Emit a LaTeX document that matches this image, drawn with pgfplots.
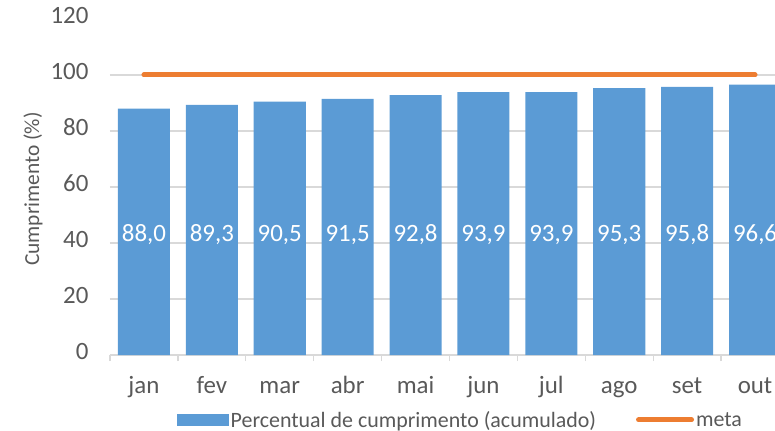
\documentclass[border=0pt]{standalone}
\usepackage{pgfplots}
\pgfplotsset{compat=1.18}
\usepackage{pgfplotstable}
\usepackage{fontspec}
\setmainfont{Carlito}

\definecolor{barblue}{HTML}{5B9BD5}
\definecolor{metaorange}{HTML}{ED7D31}
\definecolor{gridgray}{HTML}{D9D9D9}
\definecolor{textgray}{HTML}{595959}

\newcommand\fs[1]{\fontsize{#1}{#1}\selectfont}

% percentual acumulado por mes e meta
\pgfplotstableread{
x mes val meta
0 jan 88.0 100
1 fev 89.3 100
2 mar 90.5 100
3 abr 91.5 100
4 mai 92.8 100
5 jun 93.9 100
6 jul 93.9 100
7 ago 95.3 100
8 set 95.8 100
9 out 96.6 100
}\dados

\begin{document}
\begin{tikzpicture}
\begin{axis}[
  at={(0,0)}, anchor=south west,
  scale only axis, width=665bp, height=336bp,
  xmin=-0.5, xmax=9.294, ymin=0, ymax=120,
  /pgf/number format/assume math mode=true,
  xtick={0,...,9},
  xticklabels={jan,fev,mar,abr,mai,jun,jul,ago,set,out},
  typeset ticklabels with strut,
  ytick={0,20,...,100},
  extra y ticks={120}, extra y tick style={grid=none},
  extra x ticks={-0.5,0.5,...,8.5}, extra x tick labels={},
  extra x tick style={xtick style={draw=gridgray, line width=1.3bp}},
  xtick style={draw=none}, ytick style={draw=none},
  tick align=outside, major tick length=6bp,
  ymajorgrids, grid style={gridgray, line width=1.3bp},
  axis x line*=bottom, axis y line*=left,
  x axis line style={gridgray, line width=1.3bp},
  y axis line style={draw=none},
  ticklabel style={font=\fs{25}, text=textgray},
  yticklabel style={xshift=-12bp},
  xticklabel style={yshift=-12bp},
  ylabel={Cumprimento (\%)},
  ylabel style={at={(axis description cs:-0.1158,0.494)}, anchor=center, rotate=0, font=\fs{21.5}, text=textgray},
  legend style={at={(axis description cs:0.1,-0.193)}, anchor=west, draw=none, fill=none,
    legend columns=2, font=\fs{22}, text=textgray, inner sep=0pt,
    /tikz/every odd column/.append style={column sep=0bp},
    /tikz/every even column/.append style={column sep=38bp}},
]
\addplot[ybar, bar width=0.766, fill=barblue, draw=none,
  legend image code/.code={\fill[barblue] (0bp,-6bp) rectangle (52bp,6bp);}]
  table[x=x, y=val] {\dados};
\addlegendentry{Percentual de cumprimento (acumulado)}
\addplot[metaorange, line width=5bp, line cap=round, mark=none,
  legend image code/.code={\draw[metaorange, line width=5bp, line cap=round] (2bp,0bp) -- (55bp,0bp);}]
  table[x=x, y=meta] {\dados};
\addlegendentry{meta}
\addplot[draw=none, mark=none, forget plot, point meta=explicit,
  nodes near coords={\pgfmathprintnumber[fixed,fixed zerofill,precision=1,use comma]{\pgfplotspointmeta}},
  nodes near coords style={anchor=center, text=white, font=\fs{25}}]
  table[x=x, y expr=43, meta=val] {\dados};
\end{axis}
\pgfresetboundingbox
\path[use as bounding box] (-110bp,-76bp) rectangle (665bp,355bp);
\end{tikzpicture}
\end{document}
